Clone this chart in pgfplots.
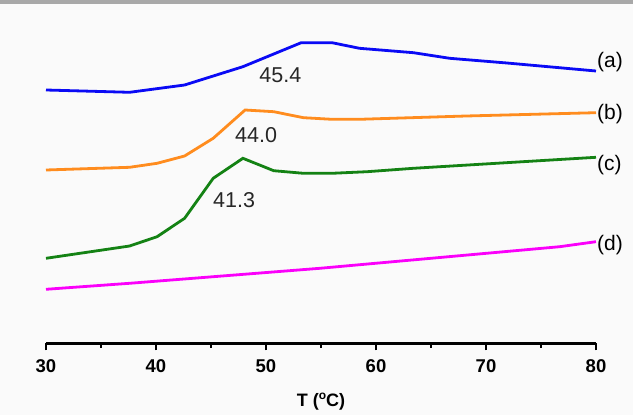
\documentclass[border=0pt]{standalone}
\usepackage{fontspec}
\setmainfont{Liberation Sans}
\usepackage{pgfplots}
\pgfplotsset{compat=1.18}
\usetikzlibrary{calc,backgrounds}
\definecolor{cblue}{RGB}{10,10,245}
\definecolor{corange}{RGB}{255,140,30}
\definecolor{cgreen}{RGB}{20,130,20}
\definecolor{cmag}{RGB}{250,0,250}
\definecolor{bg}{RGB}{250,250,250}
\definecolor{topbar}{RGB}{168,168,168}
\begin{document}
\begin{tikzpicture}
\begin{axis}[
  x=11pt, y=1pt,
  xmin=30, xmax=80, ymin=-1.5, ymax=310,
  axis x line*=bottom, axis y line=none,
  axis line style={line width=2.5pt, -},
  xtick={30,40,50,60,70,80},
  minor xtick={35,45,55,65,75},
  tick align=outside,
  major tick length=7pt, minor tick length=4.5pt,
  every tick/.style={line width=2pt, black},
  /pgf/number format/assume math mode=true,
  xticklabel style={font=\fontsize{18.5}{21}\selectfont\bfseries, yshift=-6pt},
  clip=false,
  name=ax,
]
\coordinate (O) at (axis cs:30,-1.5);
% (a)
\addplot[cblue, line width=2.8pt] coordinates {
(30,252) (37.6,249.7) (42.6,257) (47.9,275.3) (53.2,299.3) (56.0,299.3) (58.5,293.7) (63.4,289.3) (66.7,283.7) (71.9,279) (80,271)};
% (b)
\addplot[corange, line width=2.8pt] coordinates {
(30,172) (37.6,174.7) (40.1,178.7) (42.6,186) (45.2,203.7) (48.1,232) (50.7,230.3) (53.4,224.3) (56.0,222.7) (58.5,222.7) (68.2,226) (80,229.3)};
% (c)
\addplot[cgreen, line width=2.8pt] coordinates {
(30,83.7) (37.6,96) (40.1,105.3) (42.6,123.7) (45.2,163.7) (47.9,183.7) (50.7,171.3) (53.4,168.7) (56.0,168.7) (59.2,170.3) (63.4,173.7) (80,184.7)};
% (d)
\addplot[cmag, line width=2.8pt] coordinates {
(30,52.7) (37.6,58.7) (54.9,73.7) (76.7,95.3) (80,100.3)};
\node[anchor=west, font=\fontsize{21}{24}\selectfont, inner sep=1pt] at (axis cs:80,280) {(a)};
\node[anchor=west, font=\fontsize{21}{24}\selectfont, inner sep=1pt] at (axis cs:80,228) {(b)};
\node[anchor=west, font=\fontsize{21}{24}\selectfont, inner sep=1pt] at (axis cs:80,177) {(c)};
\node[anchor=west, font=\fontsize{21}{24}\selectfont, inner sep=1pt] at (axis cs:80,97) {(d)};
\node[font=\fontsize{21.5}{24}\selectfont, text=black!85] at (axis cs:51.3,267) {45.4};
\node[font=\fontsize{21.5}{24}\selectfont, text=black!85] at (axis cs:49.1,206.5) {44.0};
\node[font=\fontsize{21.5}{24}\selectfont, text=black!85] at (axis cs:47.1,141.5) {41.3};
\node[font=\fontsize{18}{20}\selectfont\bfseries] at (axis cs:55,-60) {T (\raisebox{0.75ex}{\fontsize{12}{12}\selectfont o}C)};
\end{axis}
\begin{pgfonlayer}{background}
\fill[bg] ($(O)+(-46pt,-71.5pt)$) rectangle ($(O)+(587pt,343.5pt)$);
\fill[topbar] ($(O)+(-46pt,339.5pt)$) rectangle ($(O)+(587pt,343.5pt)$);
\end{pgfonlayer}
\end{tikzpicture}
\end{document}
